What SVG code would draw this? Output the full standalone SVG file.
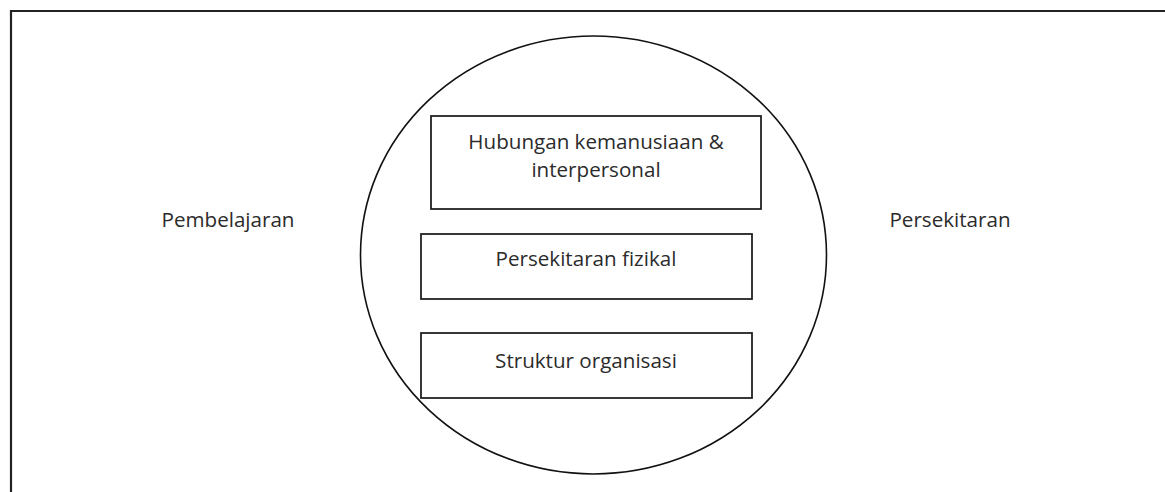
<svg xmlns="http://www.w3.org/2000/svg" width="1165" height="492" viewBox="0 0 1165 492">
<style>
.lbl{font-family:"Open Sans","Liberation Sans",sans-serif;font-size:20.6px;fill:#2b2b2b;text-anchor:middle}
.box{fill:none;stroke:#222;stroke-width:1.8}
</style>
<rect width="1165" height="492" fill="#fff"/>
<g id="frame"><path d="M11 492 V11 H1165" fill="none" stroke="#222" stroke-width="2.2"/></g>
<g id="circle"><ellipse cx="593.5" cy="255" rx="233" ry="219" fill="none" stroke="#111" stroke-width="1.6"/></g>
<g id="pembelajaran"><text class="lbl" x="228" y="227">Pembelajaran</text></g>
<g id="persekitaran"><text class="lbl" x="950" y="227">Persekitaran</text></g>
<g id="hubungan">
<rect class="box" x="431" y="116" width="330" height="93"/>
<text class="lbl" x="596" y="149">Hubungan kemanusiaan &amp;</text>
<text class="lbl" x="596" y="177">interpersonal</text>
</g>
<g id="fizikal">
<rect class="box" x="421" y="234" width="331" height="65"/>
<text class="lbl" x="586" y="266">Persekitaran fizikal</text>
</g>
<g id="struktur">
<rect class="box" x="421" y="333" width="331" height="65"/>
<text class="lbl" x="586" y="368">Struktur organisasi</text>
</g>
<g id="connectors"/>
</svg>
